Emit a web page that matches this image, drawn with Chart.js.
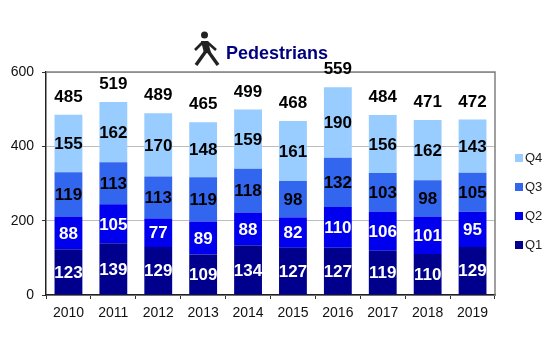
<!DOCTYPE html>
<html><head><meta charset="utf-8">
<style>html,body{margin:0;padding:0;background:#fff}#w{width:554px;height:354px}</style>
<script src="https://cdn.jsdelivr.net/npm/chart.js@4"></script></head>
<body><div id="w"><canvas id="c" width="554" height="354"></canvas></div>
<script>
const years=["2010","2011","2012","2013","2014","2015","2016","2017","2018","2019"];
const q1=[123,139,129,109,134,127,127,119,110,129];
const q2=[88,105,77,89,88,82,110,106,101,95];
const q3=[119,113,113,119,118,98,132,103,98,105];
const q4=[155,162,170,148,159,161,190,156,162,143];
const totals=[485,519,489,465,499,468,559,484,471,472];
const yTicks=[0,200,400,600];
const titleText="Pedestrians";
const colors=["#00008c","#0000ee","#3366ee","#99ccff"];
const labelColors=["#fff","#fff","#000","#000"];
const FONT='"Liberation Sans", Arial, sans-serif';

const overlay={id:'overlay',
 afterDatasetsDraw(ch){
  const g=ch.ctx,x=ch.scales.x,y=ch.scales.y;
  g.save();
  g.textAlign='center';g.textBaseline='middle';
  g.font='bold 17px '+FONT;
  ch.data.datasets.forEach((d,i)=>{
    const m=ch.getDatasetMeta(i);
    m.data.forEach((b,j)=>{
      g.fillStyle=labelColors[i];
      g.fillText(String(d.data[j]),b.x,(b.y+b.base)/2+1);
    });
  });
  g.fillStyle='#000';
  totals.forEach((t,j)=>g.fillText(String(t),x.getPixelForValue(j),y.getPixelForValue(t)-17.5));
  // title
  g.textAlign='left';g.font='bold 18px '+FONT;g.fillStyle='#000080';
  g.fillText(titleText,226,54);
  // pedestrian icon
  g.strokeStyle='#222';g.fillStyle='#222';g.lineCap='butt';g.lineJoin='round';
  g.beginPath();g.arc(204.5,35,3.5,0,7);g.fill();
  g.beginPath();g.moveTo(201,41);g.lineTo(208,41);g.lineTo(211,53);g.lineTo(204,53);g.closePath();g.fill();
  g.lineWidth=3.4;
  g.beginPath();g.moveTo(206,51);g.lineTo(196,65);g.stroke();
  g.beginPath();g.moveTo(208,51);g.lineTo(218,65);g.stroke();
  g.lineWidth=2.6;
  g.beginPath();g.moveTo(203,42);g.lineTo(195,50);g.stroke();
  g.beginPath();g.moveTo(207,42);g.lineTo(216,50);g.stroke();
  // legend
  g.font='13px '+FONT;g.textBaseline='middle';
  ["Q4","Q3","Q2","Q1"].forEach((n,k)=>{
    const ly=158+k*29;
    g.fillStyle=colors[3-k];g.fillRect(515,ly-4,8,8);
    g.fillStyle='#222';g.fillText(n,525,ly);
  });
  g.restore();
 }};

new Chart(document.getElementById('c'),{
 type:'bar',
 data:{labels:years,datasets:[q1,q2,q3,q4].map((v,i)=>({label:'Q'+(i+1),data:v,backgroundColor:colors[i],borderWidth:0,
   barPercentage:0.62,categoryPercentage:1}))},
 options:{responsive:false,animation:false,
  layout:{padding:{top:72,right:59,left:0,bottom:0}},
  plugins:{legend:{display:false},title:{display:false},tooltip:{enabled:false}},
  scales:{
   x:{stacked:true,
     grid:{display:true,drawOnChartArea:false,color:'#333',tickLength:4,offset:true},
     border:{color:'#222',width:1.5},
     ticks:{color:'#111',font:{family:FONT,size:14},padding:6,maxRotation:0},
     afterFit(s){s.height=59;}},
   y:{stacked:true,min:0,max:600,
     afterBuildTicks(s){s.ticks=yTicks.map(v=>({value:v}));},
     afterFit(s){s.width=46;},
     grid:{color:'#bdbdbd',lineWidth:1,tickColor:'#333',tickLength:4},
     border:{color:'#222',width:1.5},
     ticks:{color:'#111',font:{family:FONT,size:14},padding:8}}
  }},
 plugins:[overlay,{id:'frame',beforeDatasetsDraw(ch){
   const a=ch.chartArea,g=ch.ctx;g.save();g.strokeStyle='#808080';g.lineWidth=1.5;
   g.beginPath();g.moveTo(a.left,a.top);g.lineTo(a.right,a.top);g.lineTo(a.right,a.bottom);g.stroke();g.restore();}}]
});
</script></body></html>
